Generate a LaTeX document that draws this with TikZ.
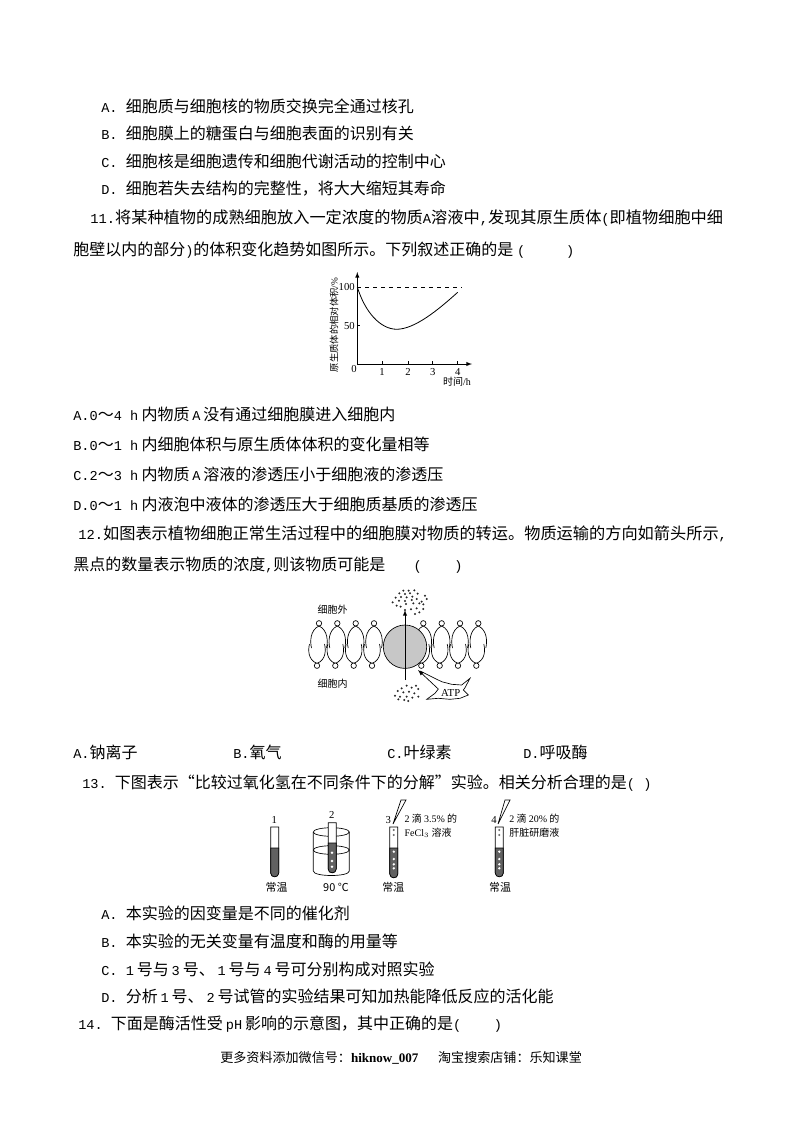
\documentclass[tikz,border=0pt]{standalone}
\usepackage{fontspec}
\setmainfont{Noto Sans CJK SC}
\newfontfamily\lamono[Scale=0.85]{Liberation Mono}
\newfontfamily\laserif{Liberation Serif}
\newcommand{\la}[1]{{\lamono #1}}
\newcommand{\lb}[1]{\hspace{0.18em}{\lamono #1}\hspace{0.18em}}
\newcommand{\lr}[1]{{\laserif #1}}
\usetikzlibrary{positioning}
\tikzset{every picture/.style={line width=0.5pt},
  txt/.style={anchor=west,inner sep=0pt,font=\fontsize{12}{12}\selectfont},
  wide/.style={txt,font=\fontsize{12.15}{12.15}\selectfont},
  small/.style={inner sep=0pt,font=\fontsize{7.5}{7.5}\selectfont},
  tinylabel/.style={inner sep=0pt,font=\fontsize{7}{7}\selectfont},
  temp/.style={inner sep=0pt,font=\fontsize{8.2}{8.2}\selectfont},
  num/.style={inner sep=0pt,font=\laserif\fontsize{8}{8}\selectfont},
  lipidhead/.style={draw,fill=white,circle,inner sep=0pt,minimum size=5.4*0.75pt},
  dotpt/.style={fill=black!85},
  liquid/.style={fill=black!62,draw=black}}
% x y bottom liquid-top
\newcommand{\testtube}[4]{
  \draw[fill=white] ({#1-4},#2) -- ({#1-4},{#3-4}) .. controls ({#1-4},{#3+1}) and ({#1+4},{#3+1}) .. ({#1+4},{#3-4}) -- ({#1+4},#2) -- cycle;
  \draw[liquid] ({#1-4},#4) -- ({#1-4},{#3-4}) .. controls ({#1-4},{#3+1}) and ({#1+4},{#3+1}) .. ({#1+4},{#3-4}) -- ({#1+4},#4) -- cycle;
}
\begin{document}
\begin{tikzpicture}[x=0.75pt,y=-0.75pt]
\useasboundingbox (0,0) rectangle (800,1132);
% text of the page
\node (optA) [txt] at (101,106) {\la{A.~}细胞质与细胞核的物质交换完全通过核孔};
\node (optB) [txt] at (101,133) {\la{B.~}细胞膜上的糖蛋白与细胞表面的识别有关};
\node (optC) [txt] at (101,161) {\la{C.~}细胞核是细胞遗传和细胞代谢活动的控制中心};
\node (optD) [txt] at (101,189) {\la{D.~}细胞若失去结构的完整性，将大大缩短其寿命};
\node (qEleven) [wide] at (90,218) {\la{11.}将某种植物的成熟细胞放入一定浓度的物质\la{A}溶液中\la{,}发现其原生质体\la{(}即植物细胞中细};
\node (qElevenb) [txt] at (73,250) {胞壁以内的部分\la{)}的体积变化趋势如图所示。下列叙述正确的是 \la{(~~~~~)}};
\node (aEleven) [txt] at (73,414) {\la{A.0}～\la{4~h}\hspace{0.2em}内物质\lb{A}没有通过细胞膜进入细胞内};
\node (bEleven) [txt] at (73,444) {\la{B.0}～\la{1~h}\hspace{0.2em}内细胞体积与原生质体体积的变化量相等};
\node (cEleven) [txt] at (73,474) {\la{C.2}～\la{3~h}\hspace{0.2em}内物质\lb{A}溶液的渗透压小于细胞液的渗透压};
\node (dEleven) [txt] at (73,504) {\la{D.0}～\la{1~h}\hspace{0.2em}内液泡中液体的渗透压大于细胞质基质的渗透压};
\node (qTwelve) [wide] at (78,534) {\la{12.}如图表示植物细胞正常生活过程中的细胞膜对物质的转运。物质运输的方向如箭头所示\la{,}};
\node (qTwelveb) [txt] at (73,565) {黑点的数量表示物质的浓度\la{,}则该物质可能是 \la{~~~(~~~~)}};
\node (aTwelve) [txt] at (73,752) {\la{A.}钠离子};
\node (bTwelve) [txt] at (233,752) {\la{B.}氧气};
\node (cTwelve) [txt] at (387,752) {\la{C.}叶绿素};
\node (dTwelve) [txt] at (523,752) {\la{D.}呼吸酶};
\node (qThirteen) [txt] at (82,783) {\la{13.~}下图表示“比较过氧化氢在不同条件下的分解”实验。相关分析合理的是\la{(~)}};
\node (aThirteen) [txt] at (101,913) {\la{A.~}本实验的因变量是不同的催化剂};
\node (bThirteen) [txt] at (101,941) {\la{B.~}本实验的无关变量有温度和酶的用量等};
\node (cThirteen) [txt] at (101,969) {\la{C.~1}\hspace{0.18em}号与\lb{3}号、\lb{1}号与\lb{4}号可分别构成对照实验};
\node (dThirteen) [txt] at (101,996) {\la{D.~}分析\lb{1}号、\lb{2}号试管的实验结果可知加热能降低反应的活化能};
\node (qFourteen) [txt] at (78,1024) {\la{14.~}下面是酶活性受\lb{pH}影响的示意图，其中正确的是\la{(~~~~)}};
\node (footer) [txt,font=\fontsize{9.8}{9.8}\selectfont] at (220,1058) {更多资料添加微信号：\lr{\bfseries hiknow\_007}\hspace{1.5em}淘宝搜索店铺：乐知课堂};

% curve
\coordinate (org) at (357.3,364);
\coordinate (ytop) at (357.3,272);
\coordinate (xend) at (472,364);
\draw[-latex] (org) -- (ytop);
\draw[-latex] (org) -- (xend);
\draw[dashed] (357.3,287) -- (461.7,287);
\draw[line width=0.6pt] (357.3,287) .. controls (365,312) and (380,329) .. (396.7,329.3) .. controls (415,329) and (438,310) .. (457.7,292.3);
\draw (357.3,325.7) -- (360.3,325.7);
\foreach \tx in {382.7,408,432.7,457.7}
  \draw (\tx,364) -- (\tx,361);
\node (yhund) [num,anchor=east] at (355,287) {100};
\node (yfifty) [num,anchor=east] at (355,325.7) {50};
\node (yzero) [num] at (354,369) {0};
\node (xone) [num] at (382,372) {1};
\node (xtwo) [num] at (408,372) {2};
\node (xthree) [num] at (432.7,372) {3};
\node (xfour) [num] at (457.7,372) {4};
\node (xlabel) [small] at (457,381.7) {时间\lr{/h}};
\node (ylabel) [tinylabel,rotate=90] at (334,325) {原生质体的相对体积\lr{/\%}};

% membrane
\node (outside) [small] at (332.7,610) {细胞外};
\node (inside) [small] at (332.7,683.3) {细胞内};
\foreach \lx in {319,337.3,355.7,374,423.3,441.7,460,478.3}{
  \draw ({\lx},626) .. controls ({\lx-9},630) and ({\lx-9},642) .. ({\lx-7.5},648);
  \draw ({\lx},626) .. controls ({\lx+9},630) and ({\lx+9},642) .. ({\lx+7.5},648);
  \draw ({\lx-2},663.4) .. controls ({\lx-11},660) and ({\lx-11},650) .. ({\lx-9.5},644);
  \draw ({\lx-2},663.4) .. controls ({\lx+7},660) and ({\lx+7},650) .. ({\lx+5.5},644);
  \node (head\lx) [lipidhead] at ({\lx},623.3) {};
  \node (foot\lx) [lipidhead] at ({\lx-2},665.7) {};
}
\node (carrier) [circle,draw,fill=black!22,minimum size=43.4*0.75pt,inner sep=0pt] at (405,646.7) {};
\coordinate (flowstart) at (405,680);
\coordinate (flowend) at (405,610);
\draw[-latex] (flowstart) -- (flowend);
\foreach \dx/\dy in {70/17,86/17,103/16,58/25,75/27,90/25,113/26,47/38,63/36,80/37,97/35,135/32,38/52,57/47,75/48,95/45,110/42,125/50,140/42,50/62,62/65,78/57,100/55,118/55,130/58,75/75,93/73,110/70,130/72,105/87,118/82}
  \fill[dotpt] ({380+\dx/3},{585+\dy/3}) circle (1.15);
\foreach \dx/\dy in {65/62,80/68,50/70,93/62,100/72,38/78,55/82,72/80,88/85,30/92,45/95,65/95,82/98,100/95,40/103,58/105,70/108}
  \fill[dotpt] ({385+\dx/3},{665+\dy/3}) circle (1.15);
\draw (420,671) -- (441.7,681.7) -- (451.7,684.3) -- (461.7,685) -- (470,678.3) -- (465,687.7) -- (463.3,690) -- (468.3,695) -- (460,698.3) -- (450,699.3) -- (438.3,698.3) -- (426.7,699.3) -- (435,693.3) -- (438.3,689);
\coordinate (atptail) at (438.3,689);
\coordinate (atptip) at (418,670);
\draw[-latex] (atptail) -- (atptip);
\node (atp) [num] at (450.7,692.7) {ATP};

% tubes
\testtube{274.7}{827}{877}{848}
\node (noOne) [num] at (274.3,820) {1};
\node (tempOne) [temp] at (276.6,887) {常温};
% beaker
\coordinate (bkl) at (313.3,832);
\coordinate (bkr) at (349.3,832);
\draw (331.3,832) ellipse (18 and 4.3);
\draw (331.3,850) ellipse (18 and 4.3);
\draw (bkl) -- (313.3,871) .. controls (313.3,877) and (349.3,877) .. (349.3,871) -- (bkr);
\testtube{332.2}{822.7}{873}{843}
\foreach \dy in {852.7,861,866.7}
  \fill[white] (332,\dy) circle (1.3);
\node (noTwo) [num] at (331.7,815) {2};
\node (tempTwo) [temp] at (336,887) {90 ℃};
\testtube{393.8}{827}{878}{848}
\foreach \dy in {851.7,859,864.3,868.3}
  \fill[white] (393.8,\dy) circle (1.3);
\foreach \dy in {830,835}
  \fill[black!60] (393.8,\dy) circle (1.1);
\draw (393,824) -- (401,800) -- (406,800) -- (393,824);
\node (noThree) [num] at (388.3,820) {3};
\node (dropThree) [small,anchor=west] at (404.3,819) {\lr{2} 滴 \lr{3.5\%} 的};
\node (dropThreeb) [small,anchor=west] at (404.3,833) {\lr{FeCl$_3$} 溶液};
\node (tempThree) [temp] at (393.3,887) {常温};
\testtube{499.3}{827}{877}{848}
\foreach \dy in {851.7,859,864.3,868.3}
  \fill[white] (499.3,\dy) circle (1.3);
\foreach \dy in {830,835}
  \fill[black!60] (499.3,\dy) circle (1.1);
\draw (498,824) -- (505,800) -- (510,800) -- (498,824);
\node (noFour) [num] at (494,820) {4};
\node (dropFour) [small,anchor=west] at (509,819) {\lr{2} 滴 \lr{20\%} 的};
\node (dropFourb) [small,anchor=west] at (509,833) {肝脏研磨液};
\node (tempFour) [temp] at (500,887) {常温};
\end{tikzpicture}
\end{document}
